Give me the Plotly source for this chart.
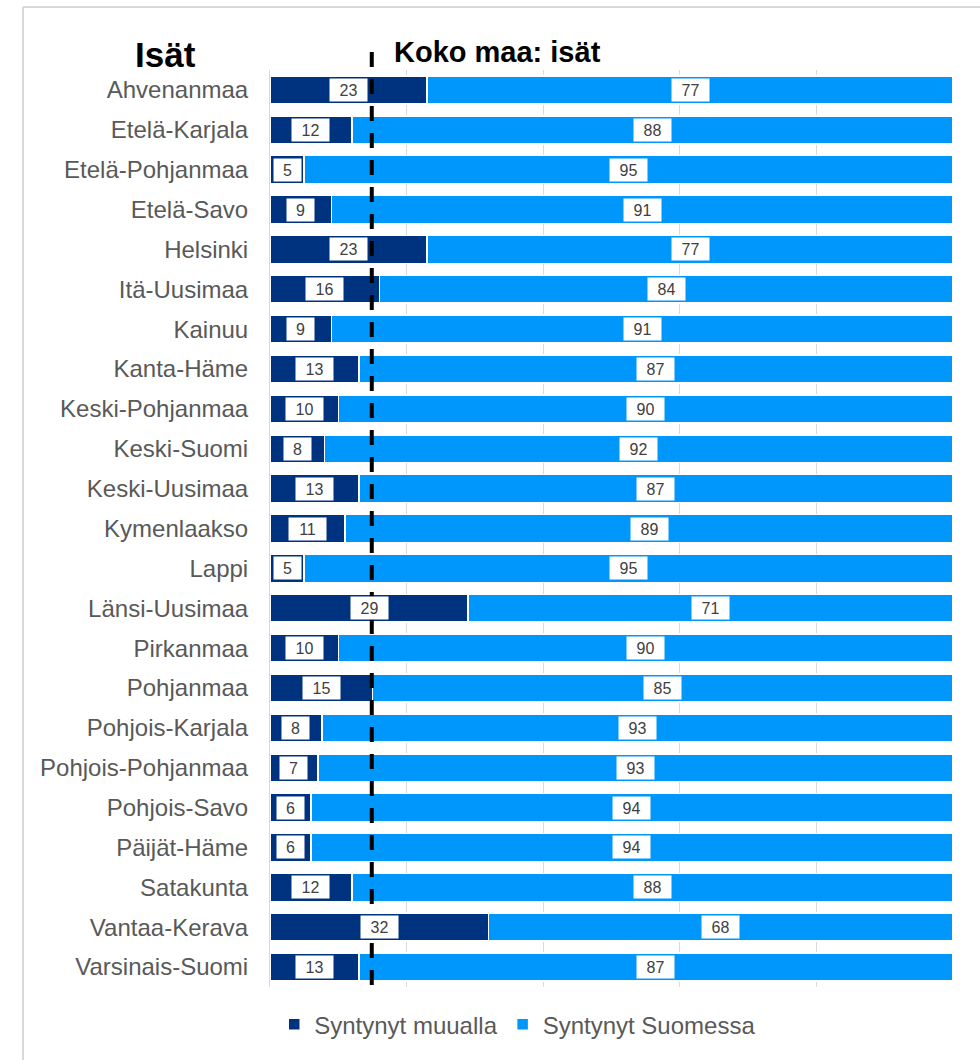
import plotly.graph_objects as go

regions = ["Ahvenanmaa", "Etelä-Karjala", "Etelä-Pohjanmaa", "Etelä-Savo", "Helsinki",
           "Itä-Uusimaa", "Kainuu", "Kanta-Häme", "Keski-Pohjanmaa", "Keski-Suomi",
           "Keski-Uusimaa", "Kymenlaakso", "Lappi", "Länsi-Uusimaa", "Pirkanmaa",
           "Pohjanmaa", "Pohjois-Karjala", "Pohjois-Pohjanmaa", "Pohjois-Savo",
           "Päijät-Häme", "Satakunta", "Vantaa-Kerava", "Varsinais-Suomi"]
born_abroad = [23, 12, 5, 9, 23, 16, 9, 13, 10, 8, 13, 11, 5, 29, 10, 15, 7.6, 7.0, 6, 6, 12, 32, 13]
born_finland = [77, 88, 95, 91, 77, 84, 91, 87, 90, 92, 87, 89, 95, 71, 90, 85, 92.4, 93.0, 94, 94, 88, 68, 87]
labels_abroad = ["23", "12", "5", "9", "23", "16", "9", "13", "10", "8", "13", "11", "5", "29",
                 "10", "15", "8", "7", "6", "6", "12", "32", "13"]
labels_finland = ["77", "88", "95", "91", "77", "84", "91", "87", "90", "92", "87", "89", "95",
                  "71", "90", "85", "93", "93", "94", "94", "88", "68", "87"]
national_avg = 14.9

series_names = ["Syntynyt muualla", "Syntynyt Suomessa"]
DARK = "#00337F"
LIGHT = "#0097FD"

fig = go.Figure()
fig.add_trace(go.Bar(y=regions, x=born_abroad, orientation="h", name=series_names[0],
                     marker=dict(color=DARK, line=dict(color="white", width=1.5)),
                     hoverinfo="x+y"))
fig.add_trace(go.Bar(y=regions, x=born_finland, orientation="h", name=series_names[1],
                     marker=dict(color=LIGHT, line=dict(color="white", width=1.5)),
                     hoverinfo="x+y"))

ann = []
for r, a, b, la, lb in zip(regions, born_abroad, born_finland, labels_abroad, labels_finland):
    for xc, lab in ((a / 2, la), (a + b / 2, lb)):
        ann.append(dict(x=xc, y=r, xref="x", yref="y", text=lab, showarrow=False,
                        bgcolor="white", width=17 + 10 * len(lab), height=22, borderpad=0,
                        font=dict(family="Liberation Sans, Arial", size=16, color="#404040")))

ann.append(dict(x=-0.1537, y=1.0164, xref="paper", yref="paper", text="<b>Isät</b>",
                showarrow=False, xanchor="center", yanchor="middle",
                font=dict(family="Liberation Sans, Arial", size=35, color="black")))
ann.append(dict(x=0.179, y=1.0196, xref="paper", yref="paper", text="<b>Koko maa: isät</b>",
                showarrow=False, xanchor="left", yanchor="middle",
                font=dict(family="Liberation Sans, Arial", size=29, color="black")))

shapes = [
    dict(type="line", xref="x", yref="paper", x0=national_avg, x1=national_avg,
         y0=1.0196, y1=-0.003, line=dict(color="black", width=4, dash="15px,12px")),
    dict(type="line", xref="paper", yref="paper", x0=-0.3616, x1=-0.3616,
         y0=1.0687, y1=-0.2, line=dict(color="#D9D9D9", width=2)),
    dict(type="line", xref="paper", yref="paper", x0=-0.3616, x1=1.2,
         y0=1.0687, y1=1.0687, line=dict(color="#D9D9D9", width=2)),
]

fig.update_layout(
    width=980, height=1060,
    margin=dict(l=270, r=27, t=70, b=73),
    paper_bgcolor="white", plot_bgcolor="white",
    barmode="stack", bargap=0.3,
    annotations=ann, shapes=shapes,
    font=dict(family="Liberation Sans, Arial", color="#595959"),
    legend=dict(orientation="h", x=0.3627, xanchor="center", y=-0.041, yanchor="middle",
                font=dict(size=24, color="#595959"), traceorder="normal"),
    xaxis=dict(range=[0, 100], tick0=0, dtick=20, showticklabels=False, showgrid=True,
               gridcolor="#D9D9D9", gridwidth=1, zeroline=False, fixedrange=True),
    yaxis=dict(autorange="reversed", showline=True, linecolor="#D9D9D9", linewidth=1,
               ticks="", ticklabelstandoff=16,
               tickfont=dict(size=24, color="#595959"), showgrid=False),
)

fig.write_html("out.html", config={"displayModeBar": False},
               post_script="document.body.style.margin='0px';")
